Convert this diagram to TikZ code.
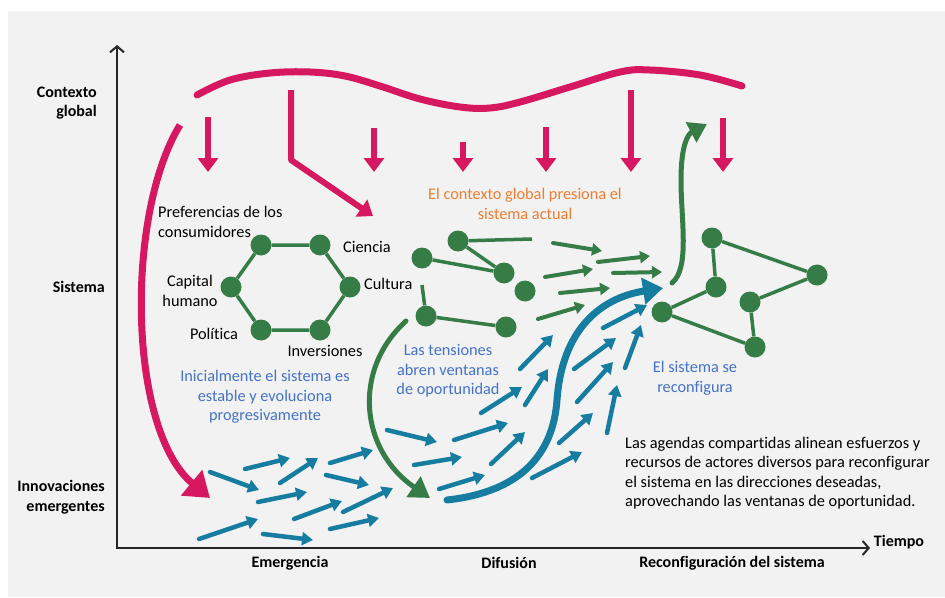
\documentclass[tikz,border=0pt]{standalone}
\usepackage{fontspec}
\setmainfont{Carlito}[Ligatures=NoCommon]
\usepackage{tikz}
\usetikzlibrary{arrows.meta}
\tikzset{>={Triangle[length=11pt,width=13pt]}}
\definecolor{pinkred}{RGB}{214,24,96}
\definecolor{leafgreen}{RGB}{54,124,70}
\definecolor{flowblue}{RGB}{22,125,160}
\definecolor{noteblue}{RGB}{68,114,196}
\definecolor{noteorange}{RGB}{237,125,49}
\definecolor{bggray}{RGB}{242,242,242}
\tikzset{
  txt/.style={font=\fontsize{16.3}{19.5}\selectfont,inner sep=0pt},
  axislabel/.style={font=\fontsize{16}{19.5}\selectfont\bfseries,inner sep=0pt},
  dot/.style={circle,fill=leafgreen,inner sep=0pt,minimum size=21pt},
  link/.style={draw=leafgreen,line width=3.5pt},
  press/.style={draw=pinkred,line width=6pt,-{Triangle[length=14pt,width=20pt]}},
  flow/.style={draw=flowblue,line width=4.5pt,line cap=round,->},
  push/.style={draw=leafgreen,line width=4pt,line cap=round,-{Triangle[length=10pt,width=12pt]}}
}

\begin{document}
\begin{tikzpicture}[x=1pt,y=-1pt]
  \useasboundingbox (0,0) rectangle (945,597);
  \fill[bggray] (8,11) rectangle (945,597);

  % axes
  \coordinate (ytop) at (117,45);
  \coordinate (origin) at (117,548);
  \coordinate (xend) at (870,548);
  \draw[line width=2pt,black!85,{Straight Barb[length=6pt,width=14pt]}-{Straight Barb[length=6pt,width=14pt]}] (ytop) -- (origin) -- (xend);

  \node (ctx) at (97,103) [axislabel,anchor=east,align=right] {Contexto\\global};
  \node (sis) at (105,287) [axislabel,anchor=east] {Sistema};
  \node (innov) at (105,497) [axislabel,anchor=east,align=right] {Innovaciones\\emergentes};
  \node (emer) at (290,563) [axislabel] {Emergencia};
  \node (difu) at (509,563) [axislabel] {Difusión};
  \node (reco) at (732,563) [axislabel] {Reconfiguración del sistema};
  \node (tiem) at (899,542) [axislabel] {Tiempo};

  % global context
  \draw[pinkred,line width=7pt,line cap=round] plot[smooth,tension=0.6] coordinates {(197,95) (230,80) (270,73) (310,72) (345,76) (380,86) (420,99) (460,107) (490,108) (520,102) (570,87) (620,72) (650,70) (700,75) (742,86)};
  \draw[press] (208,117) -- (208,172);
  \draw[press,line join=round] (291,90) -- (291,160) -- (373,216);
  \draw[press] (374,128) -- (374,172);
  \draw[press] (463,142) -- (463,172);
  \draw[press] (546,127) -- (546,172);
  \draw[press] (631,90) -- (631,172);
  \draw[press] (723,118) -- (723,172);
  \draw[press,line width=7pt,-{Triangle[length=24pt,width=32pt]}] (180,125) .. controls (125,215) and (128,430) .. (210,498);

  % stable system
  \node (pref) at (261,245) [dot] {};
  \node (cien) at (320,245) [dot] {};
  \node (cult) at (350,287) [dot] {};
  \node (inv) at (320,330) [dot] {};
  \node (pol) at (261,330) [dot] {};
  \node (cap) at (231,287) [dot] {};
  \draw[link] (pref) -- (cien) -- (cult) -- (inv) -- (pol) -- (cap) -- (pref);
  \node (preftxt) at (158,222) [txt,anchor=west,align=left] {Preferencias de los\\consumidores};
  \node (ciettxt) at (343,247) [txt,anchor=west] {Ciencia};
  \node (culttxt) at (364,284) [txt,anchor=west] {Cultura};
  \node (captxt) at (190,291) [txt,align=center] {Capital\\humano};
  \node (poltxt) at (214,334) [txt] {Política};
  \node (invtxt) at (325,351) [txt] {Inversiones};
  \node (stable) at (265,397) [txt,align=center,text=noteblue] {Inicialmente el sistema es\\estable y evoluciona\\progresivamente};

  % system under pressure
  \node (na) at (458,241) [dot] {};
  \node (nb) at (422,258) [dot] {};
  \node (nc) at (504,273) [dot] {};
  \node (nd) at (525,291) [dot] {};
  \node (ne) at (426,316) [dot] {};
  \node (nf) at (506,327) [dot] {};
  \coordinate (na end) at (532,239);
  \coordinate (ne end) at (422,285);
  \draw[link] (na) -- (na end);
  \draw[link] (na) -- (nc);
  \draw[link] (nb) -- (nc);
  \draw[link] (ne) -- (nf);
  \draw[link] (ne) -- (ne end);
  \node (press) at (525,204) [txt,align=center,text=noteorange] {El contexto global presiona el\\sistema actual};
  \draw[push] (553,243) -- (602,251);
  \draw[push] (598,262) -- (650,256);
  \draw[push] (545,277) -- (593,269);
  \draw[push] (613,273) -- (662,272);
  \draw[push] (560,293) -- (610,288);
  \draw[push] (538,319) -- (585,305);
  \draw[push,line width=5pt,-{Triangle[length=20pt,width=24pt]}] (406,321) .. controls (352,370) and (360,450) .. (430,498);
  \node (tension) at (448,371) [txt,align=center,text=noteblue] {Las tensiones\\abren ventanas\\de oportunidad};

  % emerging innovations
  \draw[flow] (210,472) -- (259,490);
  \draw[flow] (245,469) -- (290,458);
  \draw[flow] (280,483) -- (318,458);
  \draw[flow] (330,463) -- (373,450);
  \draw[flow] (326,475) -- (369,485);
  \draw[flow] (258,502) -- (307,492);
  \draw[flow] (294,519) -- (342,501);
  \draw[flow] (343,512) -- (393,488);
  \draw[flow] (199,539) -- (258,519);
  \draw[flow] (263,534) -- (313,540);
  \draw[flow] (330,529) -- (379,518);
  \draw[flow] (387,430) -- (437,442);
  \draw[flow] (414,465) -- (462,457);
  \draw[flow] (439,489) -- (485,475);
  \draw[flow] (454,440) -- (508,423);
  \draw[flow] (491,464) -- (525,432);
  \draw[flow] (481,413) -- (522,387);
  \draw[flow] (525,405) -- (548,369);
  \draw[flow] (520,369) -- (553,335);
  \draw[flow] (532,478) -- (582,452);
  \draw[flow] (559,443) -- (593,413);
  \draw[flow] (577,402) -- (613,362);
  \draw[flow] (574,369) -- (616,338);
  \draw[flow] (607,433) -- (617,385);
  \draw[flow] (625,368) -- (641,325);
  \draw[flow] (603,328) -- (647,305);
  \draw[flow,line width=7pt,-{Triangle[length=20pt,width=26pt]}] (447,500) .. controls (520,492) and (553,455) .. (557,400) .. controls (562,330) and (600,298) .. (663,288);

  % reconfigured system
  \node (ra) at (712,238) [dot] {};
  \node (rq) at (817,275) [dot] {};
  \node (rr) at (716,287) [dot] {};
  \node (rs) at (750,302) [dot] {};
  \node (rt) at (662,312) [dot] {};
  \node (ru) at (755,347) [dot] {};
  \draw[link] (ra) -- (rq) -- (rs) -- (ru) -- (rt) -- (rr) -- (ra);
  \draw[push,line width=5pt,-{Triangle[length=18pt,width=22pt]}] (672,283) .. controls (690,268) and (681,220) .. (681,180) .. controls (681,145) and (688,134) .. (707,124);
  \node (reconf) at (695,378) [txt,align=center,text=noteblue] {El sistema se\\reconfigura};
  \node (agenda) at (625,473) [txt,anchor=west,align=left] {Las agendas compartidas alinean esfuerzos y\\recursos de actores diversos para reconfigurar\\el sistema en las direcciones deseadas,\\aprovechando las ventanas de oportunidad.};
\end{tikzpicture}
\end{document}
